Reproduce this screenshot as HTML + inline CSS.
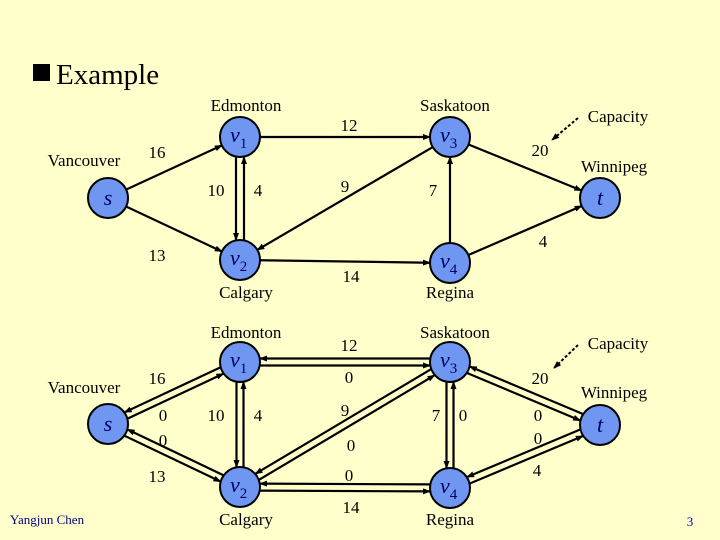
<!DOCTYPE html>
<html><head><meta charset="utf-8"><style>
body{margin:0;background:#FFFFCC;}
svg{display:block;font-family:"Liberation Serif",serif;}
</style></head><body>
<svg id="g" width="720" height="540" viewBox="0 0 720 540" xmlns="http://www.w3.org/2000/svg">
<defs>
<marker id="a" markerWidth="8" markerHeight="6" refX="7" refY="3" orient="auto" markerUnits="userSpaceOnUse"><path d="M0,0 L8,3 L0,6 z" fill="#000"/></marker>
</defs>
<rect width="720" height="540" fill="#FFFFCC"/>
<rect x="33" y="64" width="17" height="17" fill="#000"/>
<text x="56" y="84" font-size="29">Example</text>
<g id="edges" stroke="#000" stroke-width="2.2" fill="none"></g>
<g id="nodes"></g>
<g font-size="17" text-anchor="middle" fill="#000">
<text x="246" y="111">Edmonton</text><text x="455" y="111">Saskatoon</text>
<text x="84" y="166">Vancouver</text><text x="618" y="122">Capacity</text>
<text x="614" y="172">Winnipeg</text><text x="246" y="298">Calgary</text><text x="450" y="298">Regina</text>
<text x="157" y="158">16</text><text x="349" y="131">12</text><text x="216" y="196">10</text><text x="258" y="196">4</text>
<text x="345" y="192">9</text><text x="433" y="196">7</text><text x="540" y="156">20</text><text x="543" y="247">4</text>
<text x="157" y="261">13</text><text x="351" y="282">14</text>
<text x="246" y="338">Edmonton</text><text x="455" y="338">Saskatoon</text><text x="618" y="349">Capacity</text>
<text x="84" y="393">Vancouver</text><text x="614" y="398">Winnipeg</text>
<text x="157" y="384">16</text><text x="163" y="421">0</text><text x="163" y="446">0</text><text x="157" y="482">13</text>
<text x="216" y="421">10</text><text x="258" y="421">4</text>
<text x="349" y="351">12</text><text x="349" y="383">0</text><text x="345" y="416">9</text><text x="351" y="451">0</text>
<text x="349" y="481">0</text><text x="351" y="513">14</text>
<text x="436" y="421">7</text><text x="463" y="421">0</text>
<text x="540" y="384">20</text><text x="538" y="421">0</text><text x="538" y="444">0</text><text x="537" y="476">4</text>
<text x="246" y="525">Calgary</text><text x="450" y="525">Regina</text>
</g>
<line x1="578" y1="118" x2="552" y2="140" stroke="#000" stroke-width="2" stroke-dasharray="3,2" marker-end="url(#a)"/>
<line x1="578" y1="345" x2="554" y2="368" stroke="#000" stroke-width="2" stroke-dasharray="3,2" marker-end="url(#a)"/>
<text x="47" y="524" font-size="13" fill="#000080" text-anchor="middle">Yangjun Chen</text>
<text x="690" y="526" font-size="13" fill="#0000CC" text-anchor="middle">3</text>
</svg>
<script>
var NS="http://www.w3.org/2000/svg",R=20;
var T={s:[108,198],v1:[240,137],v2:[240,260],v3:[450,137],v4:[450,263],t:[600,198]};
var B={s:[108,424],v1:[240,362],v2:[240,487],v3:[450,362],v4:[450,488],t:[600,425]};
var E=document.getElementById('edges'),N=document.getElementById('nodes');
function line(P,a,b,off){var p=P[a],q=P[b],dx=q[0]-p[0],dy=q[1]-p[1],L=Math.hypot(dx,dy),ux=dx/L,uy=dy/L,nx=-uy*off,ny=ux*off;
var l=document.createElementNS(NS,'line');
l.setAttribute('x1',p[0]+ux*R+nx);l.setAttribute('y1',p[1]+uy*R+ny);
l.setAttribute('x2',q[0]-ux*R+nx);l.setAttribute('y2',q[1]-uy*R+ny);
l.setAttribute('marker-end','url(#a)');E.appendChild(l);}
[['s','v1',0],['s','v2',0],['v1','v2',4],['v2','v1',4],['v1','v3',0],['v3','v2',0],['v4','v3',0],['v2','v4',0],['v3','t',0],['v4','t',0]].forEach(function(e){line(T,e[0],e[1],e[2]);});
[['s','v1'],['s','v2'],['v1','v2'],['v1','v3'],['v2','v3'],['v3','v4'],['v2','v4'],['v3','t'],['v4','t']].forEach(function(e){line(B,e[0],e[1],3.5);line(B,e[1],e[0],3.5);});
function nodes(P){for(var k in P){var c=document.createElementNS(NS,'circle');c.setAttribute('cx',P[k][0]);c.setAttribute('cy',P[k][1]);c.setAttribute('r',R);c.setAttribute('fill','#6F96F0');c.setAttribute('stroke','#000');c.setAttribute('stroke-width','2');N.appendChild(c);
var t=document.createElementNS(NS,'text');t.setAttribute('font-style','italic');t.setAttribute('fill','#000066');t.setAttribute('font-size','22');
if(k[0]=='v'){t.setAttribute('x',P[k][0]-10);t.setAttribute('y',P[k][1]+5);t.innerHTML='v<tspan font-style="normal" font-size="15" dy="6">'+k[1]+'</tspan>';}
else{t.setAttribute('x',P[k][0]);t.setAttribute('y',P[k][1]+7);t.setAttribute('text-anchor','middle');t.textContent=k;}
N.appendChild(t);}}
nodes(T);nodes(B);
</script>
</body></html>
